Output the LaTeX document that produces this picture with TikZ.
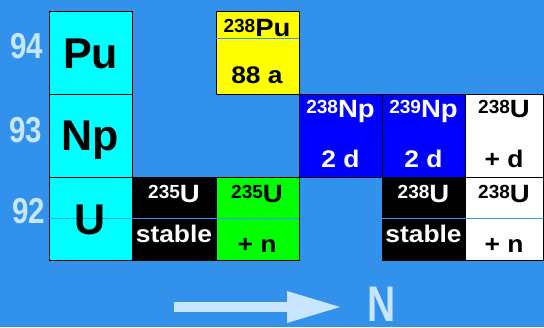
\documentclass[tikz,border=0pt]{standalone}
\usepackage{fontspec}
\setmainfont{Liberation Sans}
\usepackage{graphicx}
\definecolor{bg}{RGB}{50,145,235}
\definecolor{lbl}{RGB}{200,230,255}
\definecolor{midline}{RGB}{51,153,255}
\definecolor{cyanc}{RGB}{0,255,255}
\definecolor{yelc}{RGB}{255,255,0}
\definecolor{bluec}{RGB}{0,0,255}
\definecolor{greenc}{RGB}{0,255,0}
\newcommand{\isot}[2]{\raisebox{3.8pt}{\fontsize{19}{19}\selectfont #1}\scalebox{1.1}[1]{\fontsize{25}{25}\selectfont #2}}
\newcommand{\ctext}[1]{\scalebox{1.1}[1]{\fontsize{24}{24}\selectfont #1}}
\begin{document}
\begin{tikzpicture}[x=1pt,y=-1pt,
  cell/.style={draw=black, line width=1pt, inner sep=0pt, outer sep=0pt, anchor=north west},
  txt/.style={anchor=base, inner sep=0pt, font=\bfseries},
  big/.style={anchor=base, inner sep=0pt, font=\bfseries\fontsize{43}{43}\selectfont},
  zlab/.style={anchor=base, inner sep=0pt, text=lbl, font=\bfseries\fontsize{36}{36}\selectfont}]
\useasboundingbox (0,0) rectangle (544,327);
\fill[bg] (0,0) rectangle (544,327);
% element column
\node[cell, fill=cyanc, minimum width=83pt, minimum height=83pt] (pu) at (49,11) {};
\node[cell, fill=cyanc, minimum width=83pt, minimum height=83pt] (np) at (49,94) {};
\node[cell, fill=cyanc, minimum width=83pt, minimum height=83pt] (u) at (49,177) {};
% row 94
\node[cell, fill=yelc, minimum width=83pt, minimum height=83pt] (pu238) at (216,11) {};
% row 93
\node[cell, fill=bluec, minimum width=83pt, minimum height=83pt] (np238) at (299,94) {};
\node[cell, fill=bluec, minimum width=83pt, minimum height=83pt] (np239) at (382,94) {};
\node[cell, fill=white, minimum width=78pt, minimum height=83pt] (u238d) at (465,94) {};
% row 92
\node[cell, fill=black, minimum width=84pt, minimum height=83pt] (u235) at (132,177) {};
\node[cell, fill=greenc, minimum width=83pt, minimum height=83pt] (u235n) at (216,177) {};
\node[cell, fill=black, minimum width=83pt, minimum height=83pt] (u238) at (382,177) {};
\node[cell, fill=white, minimum width=78pt, minimum height=83pt] (u238n) at (465,177) {};
% thin lines
\draw[midline, line width=0.8pt] (pu238.west |- 0,38) -- (pu238.east |- 0,38);
\draw[midline, line width=0.8pt] (u.west |- 0,218) -- (u235n.east |- 0,218);
\draw[midline, line width=0.8pt] (u238.west |- 0,218) -- (u238n.east |- 0,218);
% big labels
\node[big] (tpu) at (90.5,68) {Pu};
\node[big] (tnp) at (90.5,150) {Np};
\node[big] (tu) at (90.5,234) {U};
% Z labels
\node[zlab] (z94) at (26.5,58) {\scalebox{0.82}[1]{94}};
\node[zlab] (z93) at (26,142) {\scalebox{0.82}[1]{93}};
\node[zlab] (z92) at (29,223) {\scalebox{0.82}[1]{92}};
% cell texts
\node[txt] (a1) at (257,36) {\isot{238}{Pu}};
\node[txt] (a2) at (257,83) {\ctext{88 a}};
\node[txt, text=white] (b1) at (340.5,117) {\isot{238}{Np}};
\node[txt, text=white] (b2) at (340.5,167) {\ctext{2 d}};
\node[txt, text=white] (c1) at (423.5,117) {\isot{239}{Np}};
\node[txt, text=white] (c2) at (423.5,167) {\ctext{2 d}};
\node[txt] (d1) at (504,117) {\isot{238}{U}};
\node[txt] (d2) at (504,167) {\ctext{+ d}};
\node[txt, text=white] (e1) at (174,202) {\isot{235}{U}};
\node[txt, text=white] (e2) at (174,242) {\ctext{stable}};
\node[txt] (f1) at (257,202) {\isot{235}{U}};
\node[txt] (f2) at (257,252) {\ctext{+ n}};
\node[txt, text=white] (g1) at (423.5,202) {\isot{238}{U}};
\node[txt, text=white] (g2) at (423.5,242) {\ctext{stable}};
\node[txt] (h1) at (504,202) {\isot{238}{U}};
\node[txt] (h2) at (504,252) {\ctext{+ n}};
% N arrow
\fill[lbl] (174,302) rectangle (288,312);
\fill[lbl] (287,291) -- (340,307) -- (287,323) -- cycle;
\node[anchor=base, inner sep=0pt, text=lbl, font=\bfseries\fontsize{50}{50}\selectfont] (nlab) at (382,321) {\scalebox{0.78}[1]{N}};
\end{tikzpicture}
\end{document}
